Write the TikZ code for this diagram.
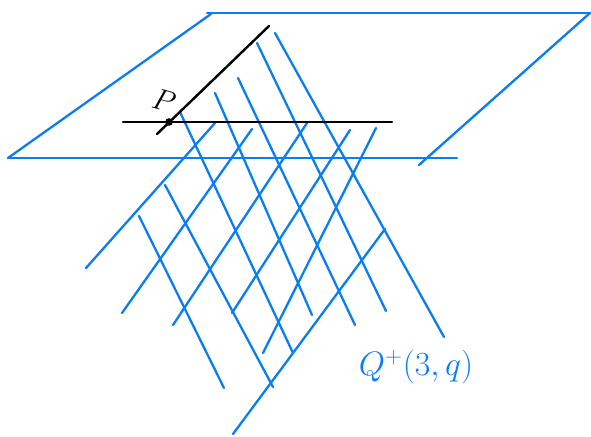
\documentclass[tikz,border=0pt]{standalone}
\usepackage{xcolor}
\usetikzlibrary{positioning}
\definecolor{penblue}{HTML}{0A7DF2}

\begin{document}
\begin{tikzpicture}[
  x=1pt, y=-1pt,
  plane/.style={draw=penblue, line width=2.3pt, line cap=round},
  rulingline/.style={draw=penblue, line width=2.3pt, line cap=round},
  tangentline/.style={draw=black, line width=2.4pt, line cap=round},
  lbl/.style={inner sep=0pt, font=\fontsize{24}{24}\selectfont}
]
\useasboundingbox (0,0) rectangle (591,436);

% plane
\draw[plane] (8,158) -- (211,14);
\draw[plane] (207,13) -- (590,13);
\draw[plane] (590,13) -- (419,165);
\draw[plane] (8,158) -- (457,158);

% lines of one regulus
\foreach \xa/\ya/\xb/\yb in {275/33/444/337, 257/43/386/311, 238/78/355/325,
    215/93/312/315, 180/112/293/353, 165/185/273/387, 139/216/224/388}
  \draw[rulingline] (\xa,\ya) -- (\xb,\yb);

% lines of the other regulus
\foreach \xa/\ya/\xb/\yb in {86/268/215/123, 122/313/252/129, 173/325/307/123,
    232/313/350/130, 263/353/376/128, 233/434/385/229}
  \draw[rulingline] (\xa,\ya) -- (\xb,\yb);

% tangent lines at the point
\draw[tangentline] (123,122) -- (392,122);
\draw[tangentline] (157,134) -- (269,26);
\fill (169,122) circle (3.8pt);

\node[lbl, scale=1.2, rotate=-15] (ptlabel) at (164,101) {$P$};
\node[lbl, scale=1.36, text=penblue] (quadric) at (416,367) {$Q^{+}(3,q)$};
\end{tikzpicture}
\end{document}
